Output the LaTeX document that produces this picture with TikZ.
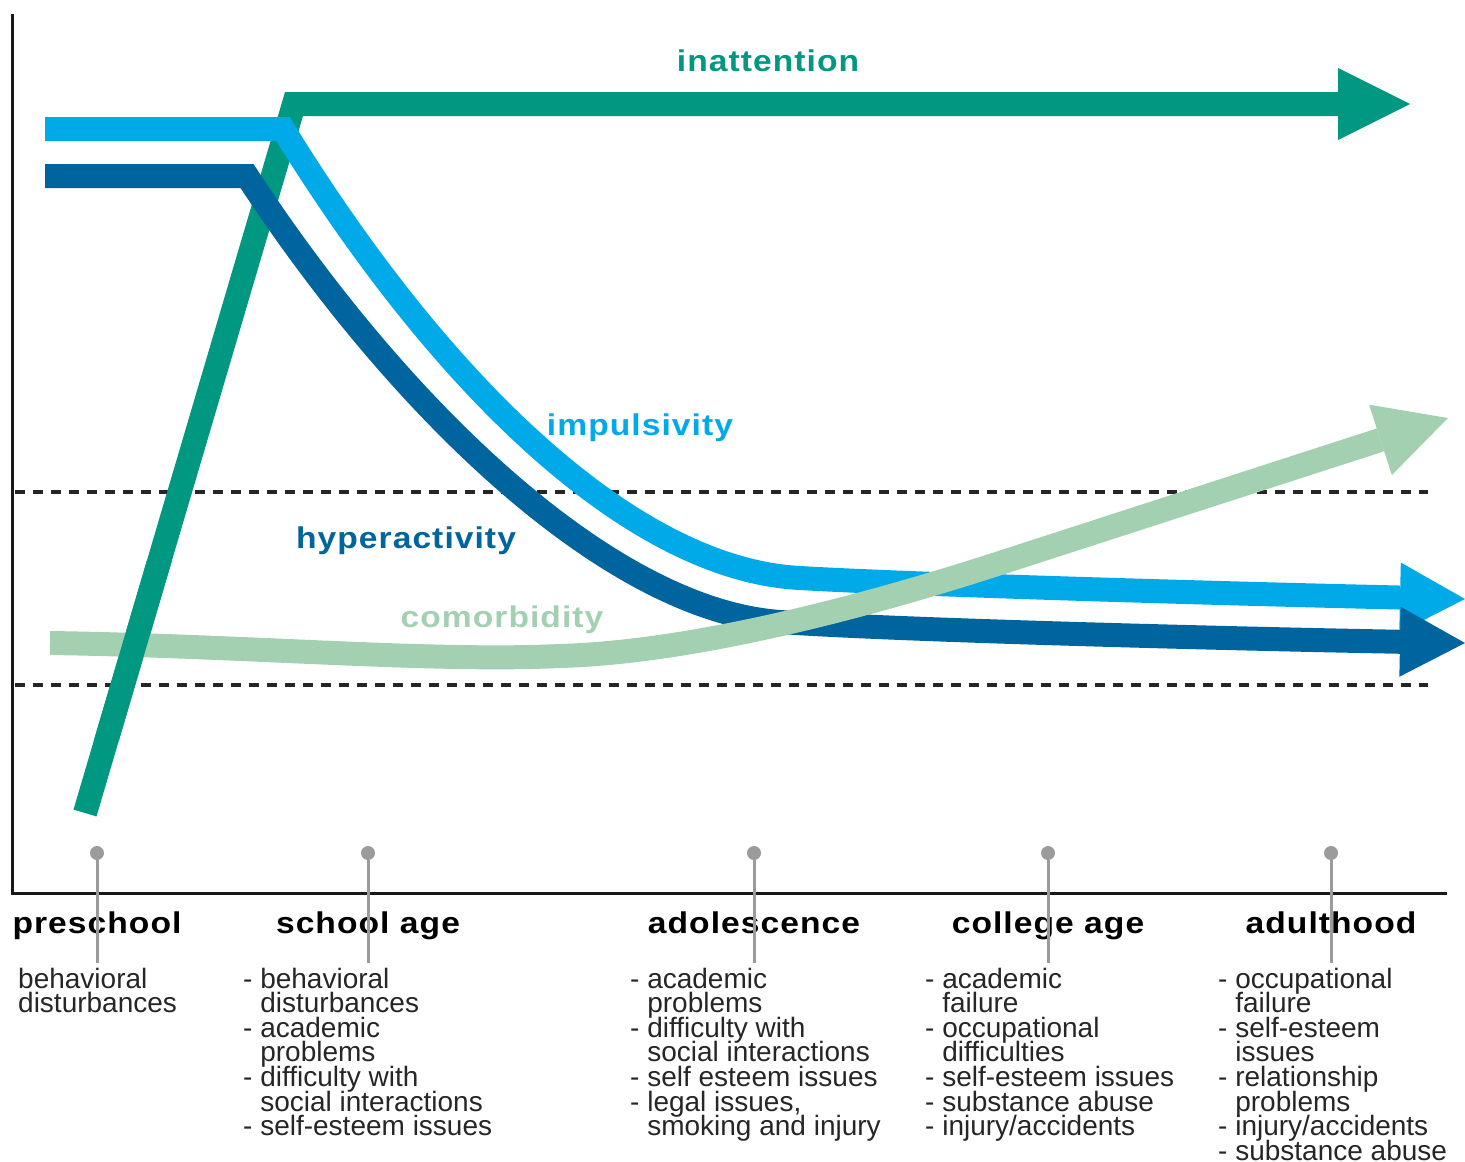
\documentclass[tikz,border=0pt]{standalone}
\usepackage{fontspec}
\setmainfont{Liberation Sans}
\newfontfamily\titlefont[LetterSpace=3.5, FakeStretch=1.12]{Liberation Sans}
\usetikzlibrary{arrows.meta}
\definecolor{inattcol}{RGB}{0,152,128}
\definecolor{impulscol}{RGB}{0,170,232}
\definecolor{hypercol}{RGB}{0,100,158}
\definecolor{comorbcol}{RGB}{163,208,177}
\definecolor{stemcol}{RGB}{155,155,155}
\setlength{\lineskiplimit}{-20pt}
\newcommand{\dashind}{\hphantom{- }}
\tikzstyle{trend} = [line width=24pt, line join=miter]
\tikzstyle{limit} = [line width=3.5pt, dash pattern=on 10pt off 8pt, black!85]
\tikzstyle{stagetitle} = [anchor=base, inner sep=0pt, font=\titlefont\bfseries\fontsize{30}{36}\selectfont]
\tikzstyle{stagetext} = [anchor=base west, align=left, inner sep=0pt, text=black!85, font=\fontsize{28}{24.6}\selectfont]
\tikzstyle{marker} = [circle, fill=stemcol, inner sep=0pt, minimum size=14pt]
\tikzstyle{stem} = [line width=3pt, stemcol]

\begin{document}
\begin{tikzpicture}[x=1pt, y=-1pt]
	\useasboundingbox (0,0) rectangle (1465,1162);
	% limits and axes
	\draw[limit] (15,492) -- (1428,492);
	\draw[limit] (15,685) -- (1428,685);
	\draw[line width=3pt, black!90] (12,14) -- (12,893) -- (1447,893);
	% symptom curves
	\draw[trend, inattcol, -{Triangle[length=72pt,width=72pt,line width=0pt]}] (85,813) -- (294,104) -- (1410,104);
	\draw[trend, impulscol, -{Triangle[length=65pt,width=70pt,line width=0pt]}] (45,129) -- (283,129) .. controls (450,400) and (640,570) .. (800,578) .. controls (900,584) and (1200,593) .. (1465,599);
	\draw[trend, hypercol, -{Triangle[length=65pt,width=70pt,line width=0pt]}] (45,176) -- (247,176) .. controls (400,410) and (610,610) .. (780,622) .. controls (900,630) and (1200,638) .. (1465,643);
	\draw[trend, comorbcol, -{Triangle[length=71pt,width=74pt,line width=0pt]}] (50,643) .. controls (250,646) and (430,662) .. (560,656) .. controls (700,652) and (880,602) .. (1000,563) -- (1448,418);
	\begin{scope}
		\clip (40,560) rectangle (250,740);
		\draw[trend, inattcol] (85,813) -- (294,104);
	\end{scope}
	% curve labels
	\node[stagetitle, inattcol] (inattention) at (768,71) {inattention};
	\node[stagetitle, impulscol] (impulsivity) at (640,435) {impulsivity};
	\node[stagetitle, hypercol] (hyperactivity) at (406,548) {hyperactivity};
	\node[stagetitle, comorbcol] (comorbidity) at (502,627) {comorbidity};
	% stages
	\node[stagetitle] (preschool) at (97,933) {preschool};
	\node[stagetitle] (school) at (368,933) {school age};
	\node[stagetitle] (adolescence) at (754,933) {adolescence};
	\node[stagetitle] (college) at (1048,933) {college age};
	\node[stagetitle] (adult) at (1331,933) {adulthood};
	\foreach \x/\s in {97/preschool, 368/school, 754/adolescence, 1048/college, 1331/adult} {
		\node[marker] (dot\s) at (\x,853) {};
		\coordinate (foot\s) at (\x,963);
		\draw[stem] (dot\s) -- (foot\s);
	}
	% problems per stage (anchored on the last line)
	\node[stagetext] (preschooltext) at (18,1012.6) {behavioral\\disturbances};
	\node[stagetext] (schooltext) at (243,1135.6) {- behavioral\\\dashind disturbances\\- academic\\\dashind problems\\- difficulty with\\\dashind social interactions\\- self-esteem issues};
	\node[stagetext] (adolescencetext) at (630,1135.6) {- academic\\\dashind problems\\- difficulty with\\\dashind social interactions\\- self esteem issues\\- legal issues,\\\dashind smoking and injury};
	\node[stagetext] (collegetext) at (925,1135.6) {- academic\\\dashind failure\\- occupational\\\dashind difficulties\\- self-esteem issues\\- substance abuse\\- injury/accidents};
	\node[stagetext] (adulttext) at (1218,1160.2) {- occupational\\\dashind failure\\- self-esteem\\\dashind issues\\- relationship\\\dashind problems\\- injury/accidents\\- substance abuse};
\end{tikzpicture}
\end{document}
